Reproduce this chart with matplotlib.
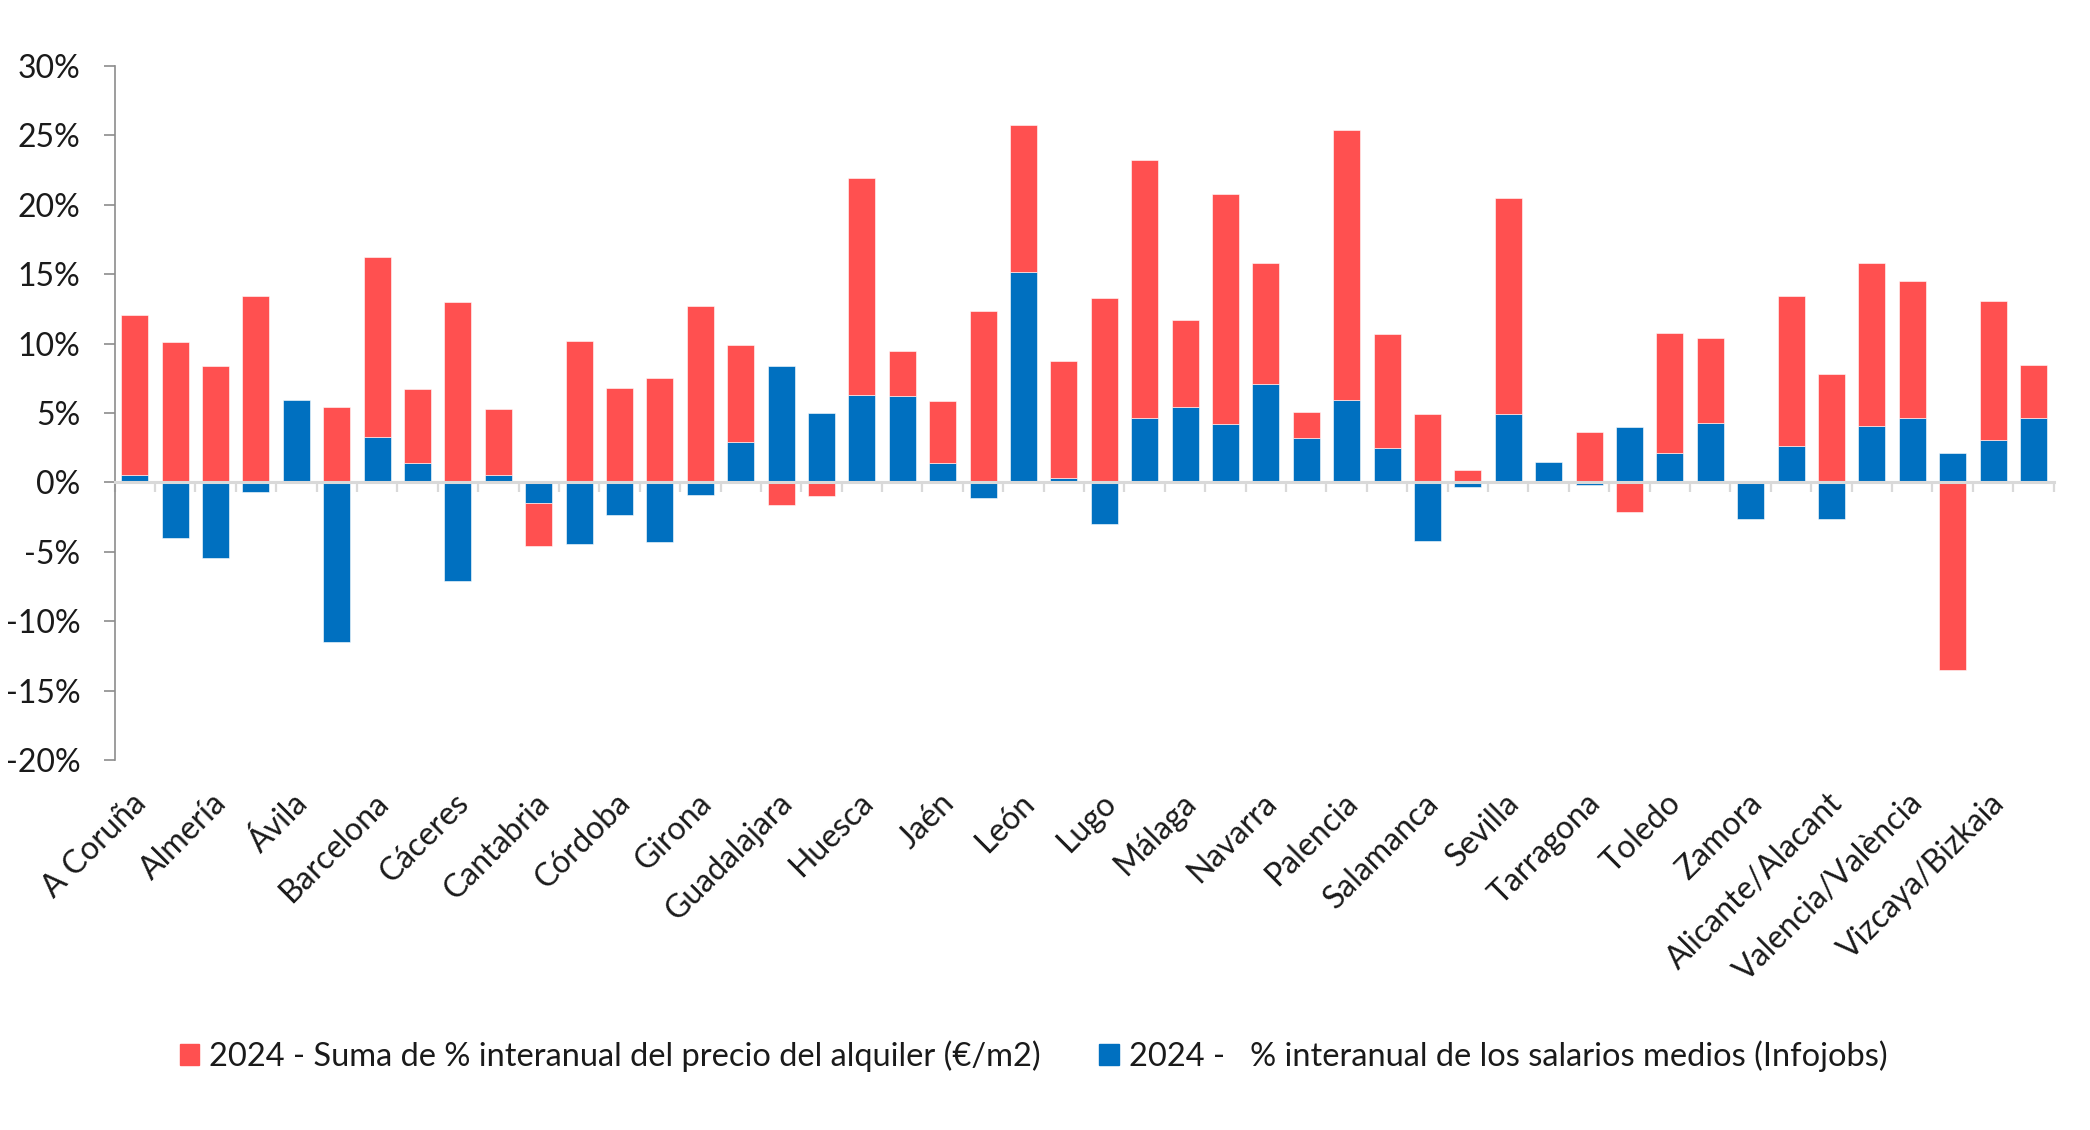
import numpy as np
import matplotlib.pyplot as plt
import matplotlib.transforms as mtransforms
from matplotlib.ticker import FuncFormatter
from matplotlib.patches import Patch

# Provincias (Excel solo muestra una etiqueta de cada dos)
provincias = [
    "A Coruña", "Albacete", "Almería", "Asturias", "Ávila", "Badajoz",
    "Barcelona", "Burgos", "Cáceres", "Cádiz", "Cantabria", "Ciudad Real",
    "Córdoba", "Cuenca", "Girona", "Granada", "Guadalajara", "Huelva",
    "Huesca", "Illes Balears", "Jaén", "La Rioja", "León", "Lleida",
    "Lugo", "Madrid", "Málaga", "Murcia", "Navarra", "Ourense",
    "Palencia", "Pontevedra", "Salamanca", "Segovia", "Sevilla", "Soria",
    "Tarragona", "Teruel", "Toledo", "Valladolid", "Zamora", "Zaragoza",
    "Alicante/Alacant", "Castellón/Castelló", "Valencia/València",
    "Guipúzcoa/Gipuzkoa", "Vizcaya/Bizkaia", "Álava/Araba",
]

# % interanual de los salarios medios (Infojobs)
salarios = [
    0.54, -3.98, -5.44, -0.68, 5.95, -11.5, 3.26, 1.39, -7.07, 0.54,
    -1.5, -4.42, -2.34, -4.28, -0.88, 2.92, 8.39, 5.03, 6.32, 6.25,
    1.39, -1.09, 15.15, 0.3, -2.99, 4.62, 5.44, 4.18, 7.07, 3.19,
    5.91, 2.45, -4.21, -0.34, 4.93, 1.5, -0.2, 4.0, 2.1, 4.25,
    -2.6, 2.65, -2.6, 4.1, 4.62, 2.14, 3.02, 4.62,
]

# % interanual del precio del alquiler (segmento apilado)
alquiler = [
    11.5, 10.1, 8.4, 13.4, 0.0, 5.44, 13.0, 5.34, 13.0, 4.76,
    -3.05, 10.19, 6.83, 7.54, 12.74, 6.97, -1.66, -1.0, 15.63, 3.23,
    4.49, 12.37, 10.61, 8.47, 13.29, 18.62, 6.28, 16.62, 8.73, 1.91,
    19.47, 8.25, 4.93, 0.92, 15.53, 0.0, 3.64, -2.1, 8.7, 6.15,
    0.0, 10.81, 7.82, 11.7, 9.88, -13.5, 10.06, 3.84,
]

ROJO = "#FF5050"
AZUL = "#0070C0"
GRIS = "#D9D9D9"
TEXTO = "#1A1A1A"
FUENTE = "Lato"


def grafico():
    sal = np.array(salarios)
    alq = np.array(alquiler)
    x = np.arange(len(provincias))

    # apilado estilo Excel: positivos sobre positivos, negativos bajo negativos
    base_alq = np.where(np.sign(alq) == np.sign(sal), sal, 0.0)

    fig = plt.figure(figsize=(20.9, 11.3), dpi=100)
    ax = fig.add_axes([0.0548, 0.3274, 0.9278, 0.6142])

    ax.bar(x, sal, width=0.67, color=AZUL, edgecolor="white", linewidth=0.4, zorder=2)
    ax.bar(x, alq, width=0.67, bottom=base_alq, color=ROJO, edgecolor="white",
           linewidth=0.4, zorder=2)

    ax.set_xlim(-0.5, len(provincias) - 0.5)
    ax.set_ylim(-20, 30)
    ax.set_yticks(np.arange(-20, 31, 5))
    ax.yaxis.set_major_formatter(FuncFormatter(
        lambda v, p: ("-" if v < 0 else "") + f"{abs(v):.0f}%"))
    ax.tick_params(axis="y", length=7.7, width=1.2, color="#8C8C8C", pad=17,
                   labelsize=23, labelcolor=TEXTO)
    for lab in ax.get_yticklabels():
        lab.set_fontfamily(FUENTE)

    # eje X en el 0 con marcas entre categorías
    for s in ["top", "right"]:
        ax.spines[s].set_visible(False)
    ax.spines["left"].set_color("#8C8C8C")
    ax.spines["left"].set_linewidth(1.2)
    ax.spines["bottom"].set_position(("data", 0))
    ax.spines["bottom"].set_color(GRIS)
    ax.spines["bottom"].set_linewidth(2.2)
    ax.spines["bottom"].set_zorder(3)
    ax.set_xticks(np.arange(len(provincias) + 1) - 0.5)
    ax.set_xticklabels([])
    ax.tick_params(axis="x", length=7, width=1.6, color=GRIS, direction="out")

    # etiquetas de provincia debajo del gráfico (una de cada dos)
    trans = mtransforms.blended_transform_factory(ax.transData, ax.transAxes)
    for i, nombre in enumerate(provincias):
        if i % 2:
            continue
        ax.text(i - 0.1, -0.04, nombre, transform=trans, rotation=45,
                rotation_mode="anchor", ha="right", va="top", fontsize=23,
                family=FUENTE, color=TEXTO)

    handles = [
        Patch(color=ROJO, label="2024 - Suma de % interanual del precio del alquiler (€/m2)"),
        Patch(color=AZUL, label="2024 -   % interanual de los salarios medios (Infojobs)"),
    ]
    leg = fig.legend(handles=handles, loc="center", bbox_to_anchor=(0.4946, 0.0655),
                     ncol=2, frameon=False, handlelength=0.59, handleheight=0.59,
                     handletextpad=0.31, columnspacing=1.79,
                     prop={"family": FUENTE, "size": 23.5})
    for t in leg.get_texts():
        t.set_color(TEXTO)

    fig.savefig("out.png", dpi=100, facecolor="white")


if __name__ == "__main__":
    grafico()
